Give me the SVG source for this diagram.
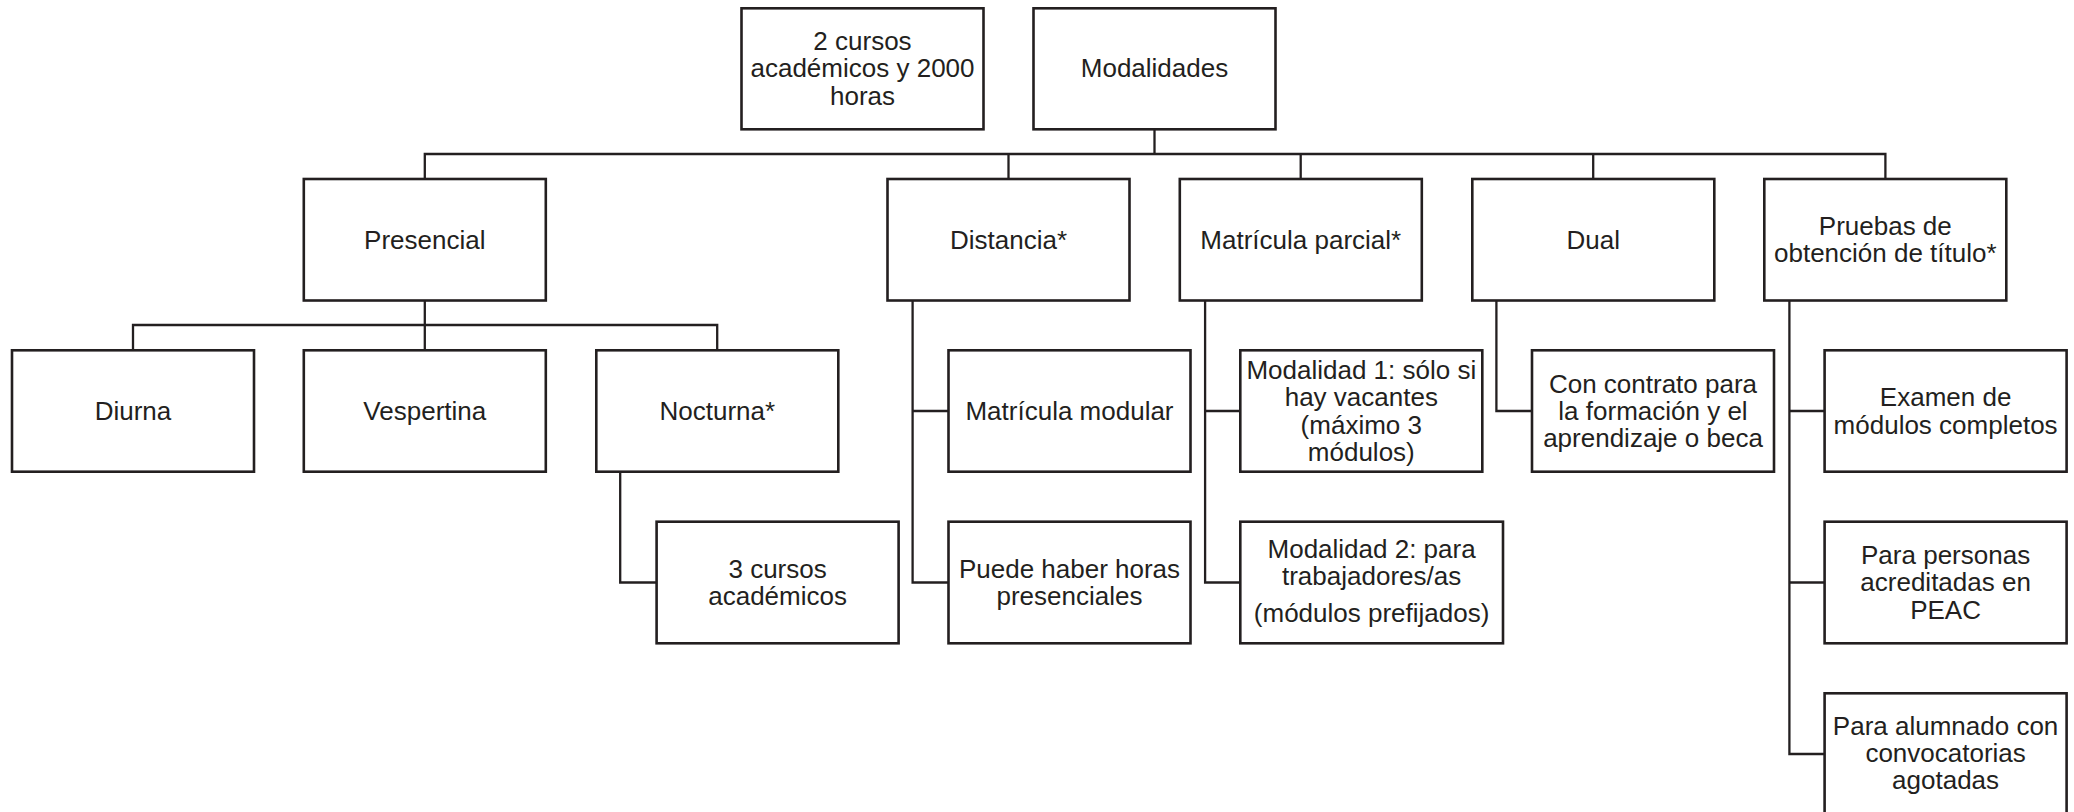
<svg xmlns="http://www.w3.org/2000/svg" width="2074" height="812" viewBox="0 0 2074 812">
<style>
.box{fill:#ffffff;stroke:#231f20;stroke-width:2.6}
.lbl{font-family:"Liberation Sans",Arial,Helvetica,sans-serif;font-size:26px;fill:#231f20;text-anchor:middle}
.con{fill:none;stroke:#231f20;stroke-width:2.3;stroke-linejoin:miter}
</style>
<rect width="2074" height="812" fill="#ffffff"/>
<g id="connectors">
<path class="con" d="M1154.5,129.5 V154"/>
<path class="con" d="M424.8,179 V154 H1885.4 V179"/>
<path class="con" d="M1008.5,154 V179"/>
<path class="con" d="M1300.7,154 V179"/>
<path class="con" d="M1593.2,154 V179"/>
<path class="con" d="M424.8,300.8 V350"/>
<path class="con" d="M133,350 V325 H717.2 V350"/>
<path class="con" d="M620.2,471.9 V582.5 H656.6"/>
<path class="con" d="M912.6,300.8 V582.5 H948.5"/>
<path class="con" d="M912.6,411 H948.5"/>
<path class="con" d="M1205.1,300.8 V582.5 H1240.3"/>
<path class="con" d="M1205.1,411 H1240.3"/>
<path class="con" d="M1496.4,300.8 V411 H1532"/>
<path class="con" d="M1789.4,300.8 V754 H1824.6"/>
<path class="con" d="M1789.4,411 H1824.6"/>
<path class="con" d="M1789.4,582.5 H1824.6"/>
</g>
<g id="n-cursos2">
<rect class="box" x="741.5" y="8.3" width="242" height="121"/>
<text class="lbl" x="862.5" y="50.1">2 cursos</text>
<text class="lbl" x="862.5" y="77.4">académicos y 2000</text>
<text class="lbl" x="862.5" y="104.7">horas</text>
</g>
<g id="n-modalidades">
<rect class="box" x="1033.5" y="8.3" width="242" height="121"/>
<text class="lbl" x="1154.5" y="77.4">Modalidades</text>
</g>
<g id="n-presencial">
<rect class="box" x="303.8" y="179" width="242" height="121.5"/>
<text class="lbl" x="424.8" y="248.5">Presencial</text>
</g>
<g id="n-distancia">
<rect class="box" x="887.5" y="179" width="242" height="121.5"/>
<text class="lbl" x="1008.5" y="248.5">Distancia*</text>
</g>
<g id="n-matricula-parcial">
<rect class="box" x="1179.8" y="179" width="242" height="121.5"/>
<text class="lbl" x="1300.8" y="248.5">Matrícula parcial*</text>
</g>
<g id="n-dual">
<rect class="box" x="1472.3" y="179" width="242" height="121.5"/>
<text class="lbl" x="1593.3" y="248.5">Dual</text>
</g>
<g id="n-pruebas">
<rect class="box" x="1764.3" y="179" width="242" height="121.5"/>
<text class="lbl" x="1885.3" y="234.9">Pruebas de</text>
<text class="lbl" x="1885.3" y="262.2">obtención de título*</text>
</g>
<g id="n-diurna">
<rect class="box" x="12" y="350.3" width="242" height="121.4"/>
<text class="lbl" x="133" y="419.8">Diurna</text>
</g>
<g id="n-vespertina">
<rect class="box" x="303.8" y="350.3" width="242" height="121.4"/>
<text class="lbl" x="424.8" y="419.8">Vespertina</text>
</g>
<g id="n-nocturna">
<rect class="box" x="596.3" y="350.3" width="242" height="121.4"/>
<text class="lbl" x="717.3" y="419.8">Nocturna*</text>
</g>
<g id="n-matricula-modular">
<rect class="box" x="948.5" y="350.3" width="242" height="121.4"/>
<text class="lbl" x="1069.5" y="419.8">Matrícula modular</text>
</g>
<g id="n-modalidad1">
<rect class="box" x="1240.3" y="350.3" width="242" height="121.4"/>
<text class="lbl" x="1361.3" y="378.9">Modalidad 1: sólo si</text>
<text class="lbl" x="1361.3" y="406.2">hay vacantes</text>
<text class="lbl" x="1361.3" y="433.5">(máximo 3</text>
<text class="lbl" x="1361.3" y="460.8">módulos)</text>
</g>
<g id="n-contrato">
<rect class="box" x="1532" y="350.3" width="242" height="121.4"/>
<text class="lbl" x="1653" y="392.5">Con contrato para</text>
<text class="lbl" x="1653" y="419.8">la formación y el</text>
<text class="lbl" x="1653" y="447.1">aprendizaje o beca</text>
</g>
<g id="n-examen">
<rect class="box" x="1824.6" y="350.3" width="242" height="121.4"/>
<text class="lbl" x="1945.6" y="406.2">Examen de</text>
<text class="lbl" x="1945.6" y="433.5">módulos completos</text>
</g>
<g id="n-cursos3">
<rect class="box" x="656.6" y="521.7" width="242" height="121.6"/>
<text class="lbl" x="777.6" y="577.7">3 cursos</text>
<text class="lbl" x="777.6" y="605">académicos</text>
</g>
<g id="n-horas-presenciales">
<rect class="box" x="948.5" y="521.7" width="242" height="121.6"/>
<text class="lbl" x="1069.5" y="577.7">Puede haber horas</text>
<text class="lbl" x="1069.5" y="605">presenciales</text>
</g>
<g id="n-modalidad2">
<rect class="box" x="1240.3" y="521.7" width="262.7" height="121.6"/>
<text class="lbl" x="1371.6" y="557.8">Modalidad 2: para</text>
<text class="lbl" x="1371.6" y="585.1">trabajadores/as</text>
<text class="lbl" x="1371.6" y="621.5">(módulos prefijados)</text>
</g>
<g id="n-peac">
<rect class="box" x="1824.6" y="521.7" width="242" height="121.6"/>
<text class="lbl" x="1945.6" y="564">Para personas</text>
<text class="lbl" x="1945.6" y="591.3">acreditadas en</text>
<text class="lbl" x="1945.6" y="618.6">PEAC</text>
</g>
<g id="n-alumnado">
<rect class="box" x="1824.6" y="693.3" width="242" height="121.6"/>
<text class="lbl" x="1945.6" y="735">Para alumnado con</text>
<text class="lbl" x="1945.6" y="762.2">convocatorias</text>
<text class="lbl" x="1945.6" y="789.3">agotadas</text>
</g>
</svg>
